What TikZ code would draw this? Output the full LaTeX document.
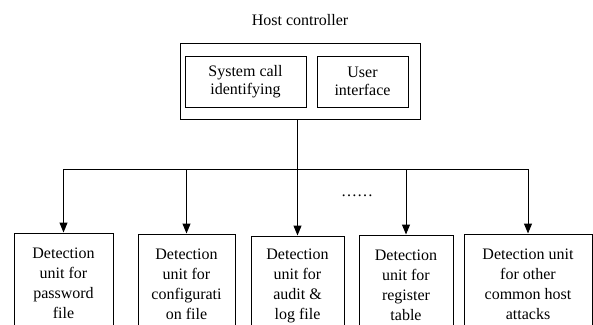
\documentclass[tikz,border=0pt]{standalone}
\usepackage{fontspec}
\setmainfont{Liberation Serif}
\usetikzlibrary{arrows.meta}
\begin{document}
\begin{tikzpicture}[x=1pt,y=-1pt,
  txt/.style={font=\fontsize{16}{20}\selectfont},
  box/.style={draw, line width=1pt, align=center, inner sep=0pt, txt},
  det/.style={box, minimum height=100pt},
  ln/.style={line width=1pt},
  arr/.style={ln, -{Triangle[length=10pt,width=8pt]}}]
\useasboundingbox (0,0) rectangle (593,324);
\clip (0,0) rectangle (593,324);
\node[txt] (title) at (300,20) {Host controller};
\node[box, minimum width=240pt, minimum height=76pt] (host) at (300,81) {};
\node[box, minimum width=121pt, minimum height=51pt, font=\fontsize{16}{18}\selectfont] (sys) at (245.5,81.5) {System call\\identifying};
\node[box, minimum width=91pt, minimum height=51pt, font=\fontsize{16}{18}\selectfont] (ui) at (362.5,81.5) {User\\interface};
\node[det, minimum width=99pt] (d1) at (63.5,283) {Detection\\unit for\\password\\file};
\node[det, minimum width=97pt] (d2) at (186.5,284) {Detection\\unit for\\configurati\\on file};
\node[det, minimum width=93pt] (d3) at (297.5,286) {Detection\\unit for\\audit \&\\log file};
\node[det, minimum width=94pt] (d4) at (406,285) {Detection\\unit for\\register\\table};
\node[det, minimum width=128pt] (d5) at (528,284) {Detection unit\\for other\\common host\\attacks};
\coordinate (bus) at (298,169);
\node[txt] (dots) at (357,196) {……};
\draw[ln] (d1.north |- bus) -- (d5.north |- bus);
\draw[arr] (d3.north |- host.south) -- (d3.north);
\foreach \d in {d1,d2,d4,d5} \draw[arr] (\d.north |- bus) -- (\d.north);
\end{tikzpicture}
\end{document}
